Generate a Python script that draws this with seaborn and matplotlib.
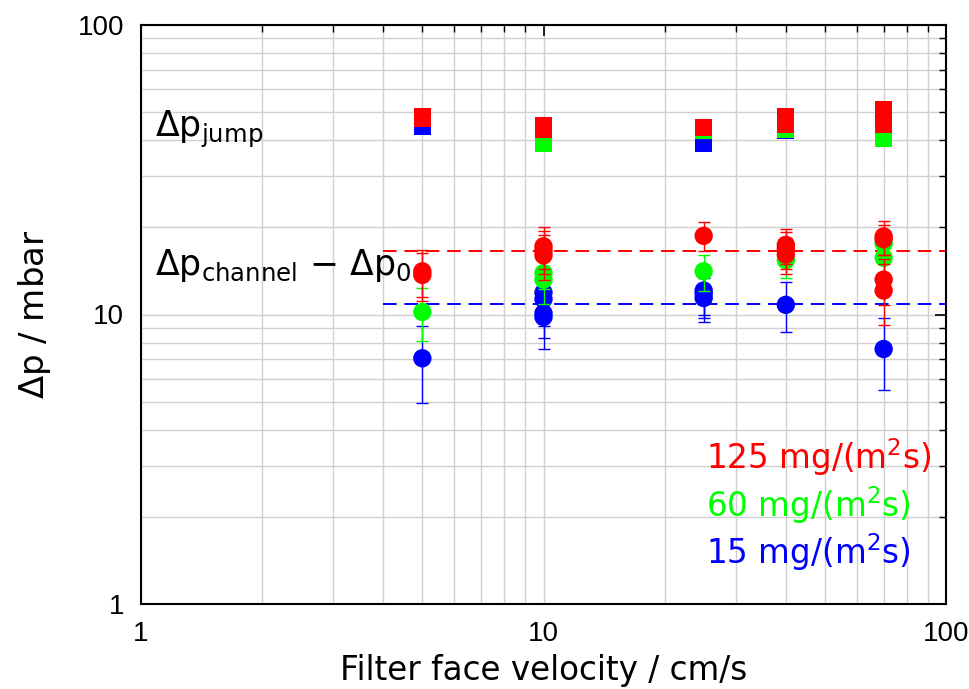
import matplotlib
matplotlib.use("Agg")
import matplotlib.pyplot as plt
import matplotlib.ticker as mticker
import seaborn as sns
import pandas as pd

# ---------------- data ----------------
# Delta p jump (squares)
jump_red_x = [5, 5, 10, 10, 25, 40, 40, 70, 70]
jump_red_y = [48.3, 47.5, 45.0, 43.5, 44.3, 48.3, 45.3, 51.1, 45.3]
jump_green_x = [10, 25, 40, 70]
jump_green_y = [39.1, 43.2, 43.5, 40.4]
jump_blue_x = [5, 25, 40]
jump_blue_y = [44.6, 39.1, 43.2]

# Delta p channel - Delta p0 (circles with error bars)
chan_red_x = [5, 5, 10, 10, 10, 25, 40, 40, 40, 70, 70, 70, 70]
chan_red_y = [14.1, 13.7, 17.2, 16.6, 16.0, 18.7, 17.4, 16.8, 16.1, 18.6, 18.2, 13.2, 12.1]
chan_red_err = [2.6, 2.6, 2.8, 2.8, 2.8, 2.1, 2.4, 2.4, 2.3, 2.5, 2.1, 2.4, 2.9]
chan_green_x = [5, 10, 10, 25, 40, 70, 70]
chan_green_y = [10.2, 13.9, 13.2, 14.1, 15.4, 17.6, 15.7]
chan_green_err = [2.1, 1.7, 2.3, 2.0, 2.0, 2.0, 2.0]
chan_blue_x = [5, 10, 10, 10, 10, 25, 25, 25, 40, 70]
chan_blue_y = [7.06, 11.9, 11.3, 10.1, 9.8, 12.1, 11.8, 11.4, 10.8, 7.6]
chan_blue_err = [2.1, 2.2, 2.2, 1.8, 2.2, 2.1, 2.05, 2.0, 2.1, 2.1]

# mean levels (dashed lines)
mean_x = [4, 100]
mean_red = 16.6
mean_blue = 10.9

legend_labels = ["125 mg/(m$^2$s)", "60 mg/(m$^2$s)", "15 mg/(m$^2$s)"]
colors = {"red": "#ff0000", "green": "#00ff00", "blue": "#0000ff"}
tick_vals = [1, 10, 100]
tick_labels = ["1", "10", "100"]

# ---------------- style ----------------
sns.set_theme(style="white")
plt.rcParams["font.family"] = ["DejaVu Sans"]
plt.rcParams["mathtext.fontset"] = "dejavusans"
plt.rcParams["mathtext.default"] = "regular"
plt.rcParams["text.color"] = "black"
plt.rcParams["axes.labelcolor"] = "black"

fig = plt.figure(figsize=(9.69, 6.89), dpi=100)
ax = fig.add_axes([141 / 969, 1 - 604 / 689, (946 - 141) / 969, (604 - 25) / 689])
ax.set_xscale("log")
ax.set_yscale("log")
ax.set_xlim(1, 100)
ax.set_ylim(1, 100)

ax.grid(True, which="both", color="#d0d0d0", linewidth=1.0)
ax.set_axisbelow(True)

jump = pd.concat([
    pd.DataFrame({"x": jump_blue_x, "y": jump_blue_y, "c": "blue"}),
    pd.DataFrame({"x": jump_green_x, "y": jump_green_y, "c": "green"}),
    pd.DataFrame({"x": jump_red_x, "y": jump_red_y, "c": "red"}),
])
chan = pd.concat([
    pd.DataFrame({"x": chan_blue_x, "y": chan_blue_y, "e": chan_blue_err, "c": "blue"}),
    pd.DataFrame({"x": chan_green_x, "y": chan_green_y, "e": chan_green_err, "c": "green"}),
    pd.DataFrame({"x": chan_red_x, "y": chan_red_y, "e": chan_red_err, "c": "red"}),
])

z = 3
for cname in ["blue", "green", "red"]:
    d = jump[jump["c"] == cname]
    sns.scatterplot(data=d, x="x", y="y", marker="s", s=150, color=colors[cname],
                    edgecolor="none", linewidth=0, ax=ax, zorder=z, legend=False)
    z += 1
for cname in ["blue", "green", "red"]:
    d = chan[chan["c"] == cname]
    ax.errorbar(d["x"], d["y"], yerr=d["e"], fmt="none", ecolor=colors[cname],
                elinewidth=1.0, capsize=4.3, capthick=1.0, zorder=z)
    sns.scatterplot(data=d, x="x", y="y", marker="o", s=175, color=colors[cname],
                    edgecolor="none", linewidth=0, ax=ax, zorder=z + 0.5, legend=False)
    z += 1

ax.plot(mean_x, [mean_red, mean_red], color=colors["red"], linestyle=(0, (7, 4)), linewidth=1.4, zorder=2.5)
ax.plot(mean_x, [mean_blue, mean_blue], color=colors["blue"], linestyle=(0, (7, 4)), linewidth=1.4, zorder=2.5)

# ticks
for axis in (ax.xaxis, ax.yaxis):
    axis.set_major_locator(mticker.FixedLocator(tick_vals))
    axis.set_major_formatter(mticker.FixedFormatter(tick_labels))
    axis.set_minor_locator(mticker.LogLocator(base=10, subs=range(2, 10)))
    axis.set_minor_formatter(mticker.NullFormatter())
ax.tick_params(which="both", direction="in", top=True, right=True, color="black")
ax.tick_params(which="major", length=8, width=1.2, labelsize=20, pad=12,
               labelcolor="black", labelfontfamily="Liberation Sans")
ax.tick_params(which="minor", length=5, width=1.0)
for sp in ax.spines.values():
    sp.set_color("black")
    sp.set_linewidth(1.5)

ax.set_xlabel("Filter face velocity / cm/s", fontsize=23.5, labelpad=5)
ax.set_ylabel("$\\Delta$p / mbar", fontsize=24.5, labelpad=18)

ax.text(0.018, 0.82, "$\\Delta$p$_{jump}$", transform=ax.transAxes, fontsize=25,
        ha="left", va="center")
ax.text(0.018, 0.585, "$\\Delta$p$_{channel}$ $-$ $\\Delta$p$_{0}$", transform=ax.transAxes,
        fontsize=25, ha="left", va="center")

leg_colors = [colors["red"], colors["green"], colors["blue"]]
for i, (lab, col) in enumerate(zip(legend_labels, leg_colors)):
    ax.text(0.702, 0.253 - i * 0.082, lab, transform=ax.transAxes, fontsize=23.5,
            color=col, ha="left", va="center")

fig.savefig("out.png", dpi=100)
